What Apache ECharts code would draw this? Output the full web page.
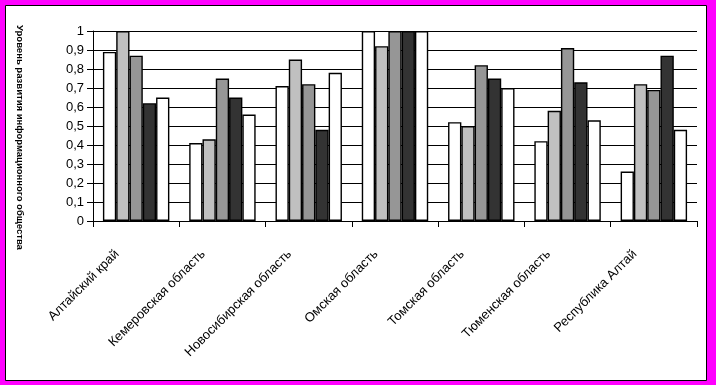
<!DOCTYPE html>
<html><head><meta charset="utf-8">
<script src="https://cdn.jsdelivr.net/npm/echarts@6/dist/echarts.min.js"></script>
<style>html,body{margin:0;padding:0;background:#ff00ff;}#c{width:716px;height:385px;}</style>
</head><body><div id="c"></div>
<script>
const categories = ['Алтайский край','Кемеровская область','Новосибирская область','Омская область','Томская область','Тюменская область','Республика Алтай'];
const s1 = [0.89, 0.41, 0.71, 1.00, 0.52, 0.42, 0.26];
const s2 = [1.00, 0.43, 0.85, 0.92, 0.50, 0.58, 0.72];
const s3 = [0.87, 0.75, 0.72, 1.00, 0.82, 0.91, 0.69];
const s4 = [0.62, 0.65, 0.48, 1.00, 0.75, 0.73, 0.87];
const s5 = [0.65, 0.56, 0.78, 1.00, 0.70, 0.53, 0.48];
const seriesData = [s1, s2, s3, s4, s5];
const colors = ['#ffffff', '#c0c0c0', '#969696', '#333333', '#ffffff'];
const yTitle = 'Уровень развития информационного общества';

const chart = echarts.init(document.getElementById('c'), null, {renderer: 'canvas'});
chart.setOption({
  backgroundColor: '#ff00ff',
  animation: false,
  graphic: [
    {type: 'rect', z: -10, shape: {x: 5.5, y: 5.5, width: 701, height: 375}, style: {fill: '#ffffff', stroke: '#000000', lineWidth: 1}},
    {type: 'text', left: 15, top: 25, rotation: -Math.PI / 2, style: {text: yTitle, font: 'bold 9.5px "Liberation Sans"', fill: '#000000'}}
  ],
  grid: {left: 93, right: 19, top: 31, bottom: 164, containLabel: false},
  xAxis: {
    type: 'category',
    data: categories,
    axisLine: {lineStyle: {color: '#000', width: 1}},
    axisTick: {show: true, alignWithLabel: false, length: 6, lineStyle: {color: '#000'}},
    axisLabel: {rotate: 45, interval: 0, fontFamily: 'Liberation Sans', fontSize: 13, color: '#000', margin: 12, padding: [0, 27, 0, 0]}
  },
  yAxis: {
    type: 'value', min: 0, max: 1, interval: 0.1,
    axisLine: {show: true, lineStyle: {color: '#000', width: 1}},
    axisTick: {show: true, length: 6, lineStyle: {color: '#000'}},
    splitLine: {show: true, lineStyle: {color: '#000', width: 1}},
    axisLabel: {fontFamily: 'Liberation Sans', fontSize: 13, color: '#000', margin: 9,
      formatter: v => (Math.round(v * 10) / 10).toString().replace('.', ',')}
  },
  series: seriesData.map((d, i) => ({
    type: 'bar', data: d, barGap: '0%', barCategoryGap: '23%',
    itemStyle: {color: colors[i], borderColor: '#000', borderWidth: 1.4}
  }))
});
</script></body></html>
